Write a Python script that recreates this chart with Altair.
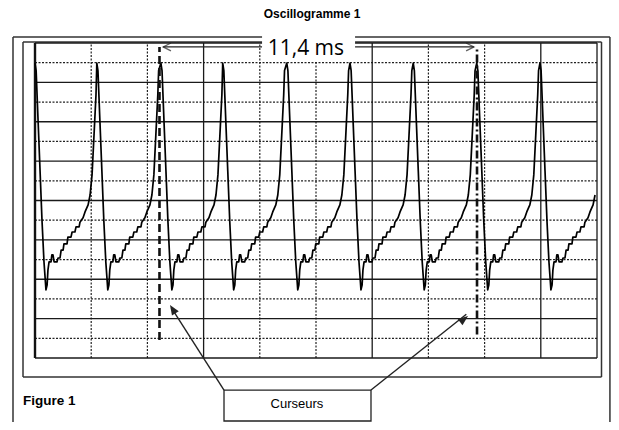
import altair as alt
import pandas as pd

# ---------------- data (time in ms, amplitude in vertical divisions) ----------------
peak_times_ms = [0.00, 2.20, 4.48, 6.68, 8.96, 11.21, 13.46, 15.72, 17.97]
shape_t_ms = [0.00, 0.04, 0.11, 0.18, 0.25, 0.32, 0.39, 0.43, 0.46, 0.50, 0.57, 0.60,
              0.64, 0.68, 0.78, 0.82, 0.89, 0.93, 1.00, 1.03, 1.14, 1.17, 1.28, 1.32,
              1.42, 1.46, 1.57, 1.60, 1.71, 1.78, 1.89, 1.96, 2.03, 2.10, 2.17, 2.20]
shape_v_div = [7.49, 7.30, 6.02, 4.75, 3.48, 2.44, 1.73, 1.85, 2.23, 2.44, 2.44, 2.62,
               2.62, 2.44, 2.44, 2.54, 2.54, 2.74, 2.74, 2.90, 2.90, 3.07, 3.07, 3.20,
               3.20, 3.33, 3.33, 3.45, 3.56, 3.71, 3.89, 4.14, 4.65, 5.66, 6.68, 7.30]
t_end_ms = 20.0

grid_x_solid = [0, 6, 12, 18, 20]
grid_x_dotted = [2, 4, 8, 10, 14, 16]
grid_y_solid = [0, 1, 2, 3, 4, 5, 6, 7, 8]
grid_y_dotted = [0.5, 1.5, 2.5, 3.5, 4.5, 5.5, 6.5, 7.5]

cursor_ms = [4.43, 15.73]
cursor_bottom_div = [0.46, 0.60]
cursor_top_div = 7.9
measure_label = "11,4 ms"
title_text = "Oscillogramme 1"
figure_text = "Figure 1"
box_text = "Curseurs"

# ---------------- build tables ----------------
rows = []
idx = 0
for i, p in enumerate(peak_times_ms):
    nxt = peak_times_ms[i + 1] if i + 1 < len(peak_times_ms) else t_end_ms
    for t, v in zip(shape_t_ms, shape_v_div):
        x = p + t
        if x < nxt - 0.005:
            rows.append({"x": x, "y": v, "i": idx})
            idx += 1
wave = pd.DataFrame(rows)

XD = [-0.961, 20.498]
YD = [-1.625, 8.889]
xs = alt.Scale(domain=XD, nice=False, zero=False)
ys = alt.Scale(domain=YD, nice=False, zero=False)


def segs(lst):
    return pd.DataFrame(lst, columns=["x", "x2", "y", "y2"])


def rules(df, **kw):
    return alt.Chart(df).mark_rule(**kw).encode(
        x=alt.X("x:Q", scale=xs, axis=None),
        x2="x2:Q",
        y=alt.Y("y:Q", scale=ys, axis=None),
        y2="y2:Q",
    )


solid_v = segs([[g, g, 0, 8] for g in grid_x_solid if g != 0])
left_v = segs([[0, 0, 0, 8]])
dotted_v = segs([[g, g, 0, 8] for g in grid_x_dotted])
solid_h = segs([[0, 20, g, g] for g in grid_y_solid])
dotted_h = segs([[0, 20, g, g] for g in grid_y_dotted])

inner_frame = segs([[-0.427, 20.16, 8.025, 8.025], [-0.427, 20.16, -0.483, -0.483],
                    [-0.427, -0.427, -0.483, 8.025], [20.16, 20.16, -0.483, 8.025]])
outer_frame = segs([[-0.783, 20.46, 8.152, 8.152], [-0.783, -0.783, -1.625, 8.152],
                    [20.46, 20.46, -1.625, 8.152]])

layers = []
layers.append(rules(outer_frame, color="#333333", strokeWidth=1.5))
layers.append(rules(inner_frame, color="#333333", strokeWidth=1.5))
layers.append(rules(dotted_v, color="#222222", strokeWidth=1.2, strokeDash=[2, 1.5]))
layers.append(rules(dotted_h, color="#222222", strokeWidth=1.2, strokeDash=[2, 1.5]))
layers.append(rules(solid_v, color="#1a1a1a", strokeWidth=1.3))
layers.append(rules(solid_h, color="#1a1a1a", strokeWidth=1.3))
layers.append(rules(left_v, color="#111111", strokeWidth=2.4))

# white label box at the top
label_box = pd.DataFrame([{"x": 8.08, "x2": 11.39, "y": 8.33, "y2": 7.52}])
layers.append(alt.Chart(label_box).mark_rect(color="white").encode(
    x=alt.X("x:Q", scale=xs, axis=None), x2="x2:Q",
    y=alt.Y("y:Q", scale=ys, axis=None), y2="y2:Q"))

# waveform
layers.append(alt.Chart(wave).mark_line(color="black", strokeWidth=1.7, strokeJoin="round").encode(
    x=alt.X("x:Q", scale=xs, axis=None),
    y=alt.Y("y:Q", scale=ys, axis=None),
    order="i:Q"))

# cursors
c1 = segs([[cursor_ms[0], cursor_ms[0], cursor_bottom_div[0], cursor_top_div]])
c2 = segs([[cursor_ms[1], cursor_ms[1], cursor_bottom_div[1], cursor_top_div]])
layers.append(rules(c1, color="#111111", strokeWidth=2.6, strokeDash=[8, 4]))
layers.append(rules(c2, color="#111111", strokeWidth=2.6, strokeDash=[8, 3, 2, 3]))

# measurement arrow at top
arr = segs([[4.56, 8.08, 7.9, 7.9], [11.39, 15.62, 7.9, 7.9]])
layers.append(rules(arr, color="#222222", strokeWidth=1.2))
heads = pd.DataFrame([{"x": 4.56, "y": 7.9}])
layers.append(alt.Chart(heads).mark_point(shape="M1.2,-0.6 L0,0 L1.2,0.6", filled=False,
                                          size=170, color="#222222", strokeWidth=1.3).encode(
    x=alt.X("x:Q", scale=xs, axis=None), y=alt.Y("y:Q", scale=ys, axis=None)))
heads2 = pd.DataFrame([{"x": 15.62, "y": 7.9}])
layers.append(alt.Chart(heads2).mark_point(shape="M-1.2,-0.6 L0,0 L-1.2,0.6", filled=False,
                                           size=170, color="#222222", strokeWidth=1.3).encode(
    x=alt.X("x:Q", scale=xs, axis=None), y=alt.Y("y:Q", scale=ys, axis=None)))

# labels
def text(df, **kw):
    return alt.Chart(df).mark_text(**kw).encode(
        x=alt.X("x:Q", scale=xs, axis=None), y=alt.Y("y:Q", scale=ys, axis=None), text="t:N")

layers.append(text(pd.DataFrame([{"x": 9.64, "y": 7.85, "t": measure_label}]),
                   font="Open Sans", fontSize=21, color="black", align="center", baseline="middle"))
layers.append(text(pd.DataFrame([{"x": 9.86, "y": 8.737, "t": title_text}]),
                   font="Liberation Sans", fontSize=12, fontWeight="bold", color="black",
                   align="center", baseline="middle"))
layers.append(text(pd.DataFrame([{"x": -0.427, "y": -1.092, "t": figure_text}]),
                   font="Liberation Sans", fontSize=13.5, fontWeight="bold", color="black",
                   align="left", baseline="middle"))

# "Curseurs" callout box and arrows
cbox = pd.DataFrame([{"x": 6.726, "x2": 11.957, "y": -0.813, "y2": -1.60}])
layers.append(alt.Chart(cbox).mark_rect(fill="white", stroke="#222222", strokeWidth=1.3).encode(
    x=alt.X("x:Q", scale=xs, axis=None), x2="x2:Q",
    y=alt.Y("y:Q", scale=ys, axis=None), y2="y2:Q"))
layers.append(text(pd.DataFrame([{"x": 9.32, "y": -1.17, "t": box_text}]),
                   font="Liberation Sans", fontSize=13, color="black",
                   align="center", baseline="middle"))
callout = segs([[6.726, 4.85, -0.813, 1.28], [11.957, 15.35, -0.813, 1.11]])
layers.append(rules(callout, color="#222222", strokeWidth=1.4))
layers.append(alt.Chart(pd.DataFrame([{"x": 4.804, "y": 1.346}])).mark_point(
    shape="M0,0 L-0.4,1 L0.4,1 Z", filled=True, size=400, color="#222222", opacity=1,
    angle=327.6).encode(x=alt.X("x:Q", scale=xs, axis=None), y=alt.Y("y:Q", scale=ys, axis=None)))
layers.append(alt.Chart(pd.DataFrame([{"x": 15.41, "y": 1.067}])).mark_point(
    shape="M0,0 L-0.4,1 L0.4,1 Z", filled=True, size=400, color="#222222", opacity=1,
    angle=52.7).encode(x=alt.X("x:Q", scale=xs, axis=None), y=alt.Y("y:Q", scale=ys, axis=None)))

chart = alt.layer(*layers).properties(
    width=603, height=414,
    autosize=alt.AutoSizeParams(type="none"),
    padding=0,
    background="white",
).configure_view(stroke=None)

chart.save("out.html", embed_options={"renderer": "svg", "actions": False})
